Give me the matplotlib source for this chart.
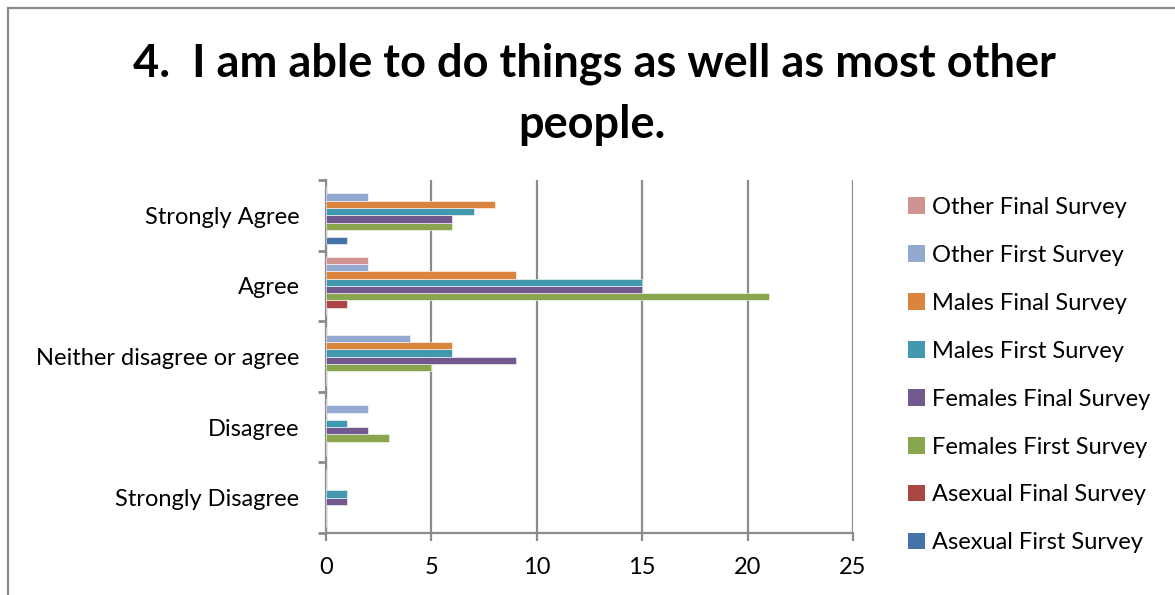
import matplotlib
matplotlib.use("Agg")
import matplotlib.pyplot as plt
from matplotlib.patches import Patch
from matplotlib.lines import Line2D
import numpy as np

plt.rcParams['font.family'] = ['Lato', 'DejaVu Sans']

categories = ["Strongly Disagree", "Disagree", "Neither disagree or agree", "Agree", "Strongly Agree"]

# Series, listed bottom-to-top within each category group
series_names = [
    "Asexual First Survey", "Asexual Final Survey",
    "Females First Survey", "Females Final Survey",
    "Males First Survey", "Males Final Survey",
    "Other First Survey", "Other Final Survey",
]
asexual_first = [0, 0, 0, 0, 1]
asexual_final = [0, 0, 0, 1, 0]
females_first = [0, 3, 5, 21, 6]
females_final = [1, 2, 9, 15, 6]
males_first = [1, 1, 6, 15, 7]
males_final = [0, 0, 6, 9, 8]
other_first = [0, 2, 4, 2, 2]
other_final = [0, 0, 0, 2, 0]

series_values = [asexual_first, asexual_final, females_first, females_final,
                 males_first, males_final, other_first, other_final]
colors = ["#4572A7", "#AA4643", "#89A54E", "#71588F",
          "#4198AF", "#DB843D", "#93A9CF", "#D19392"]

x_ticks = [0, 5, 10, 15, 20, 25]

fig = plt.figure(figsize=(11.75, 5.95), dpi=100)
ax = fig.add_axes([326 / 1175, 1 - 533 / 595, (853 - 326) / 1175, (533 - 180) / 595])

n = len(series_names)
group = 0.827
h = group / n
y = np.arange(len(categories))
for i, (vals, col) in enumerate(zip(series_values, colors)):
    offs = -group / 2 + (i + 0.5) * h
    ax.barh(y + offs, vals, height=h, color=col, edgecolor="white",
            linewidth=0.4, zorder=3)

ax.set_xlim(0, 25)
ax.set_ylim(-0.5, len(categories) - 0.5)
ax.set_xticks(x_ticks)
ax.set_xticklabels([str(t) for t in x_ticks], fontsize=17)
ax.tick_params(axis="x", direction="out", length=6, width=1.6, color="#8c8c8c", pad=11)
ax.grid(axis="x", color="#8c8c8c", linewidth=1.6, zorder=0)
ax.set_axisbelow(True)

# category boundary ticks, labels at the centres
ax.set_yticks(np.arange(-0.5, len(categories), 1.0))
ax.set_yticklabels([])
ax.tick_params(axis="y", which="major", direction="out", length=6, width=2, color="#8c8c8c")
ax.set_yticks(y, minor=True)
ax.set_yticklabels(categories, minor=True, fontsize=17)
ax.tick_params(axis="y", which="minor", length=0, pad=19)

for s in ["top", "right"]:
    ax.spines[s].set_visible(False)
for s in ["left", "bottom"]:
    ax.spines[s].set_color("#8c8c8c")
    ax.spines[s].set_linewidth(1.6)

fig.text(0.506, 0.893, "4.  I am able to do things as well as most other",
         ha="center", va="center", fontsize=32.5, fontweight="bold")
fig.text(0.504, 0.79, "people.", ha="center", va="center", fontsize=32.5, fontweight="bold")

handles = [Patch(facecolor=c, edgecolor="none") for c in colors][::-1]
labels = series_names[::-1]
fig.legend(handles, labels, loc="upper left", bbox_to_anchor=(908 / 1175, 1 - 197 / 595),
           frameon=False, fontsize=17, handlelength=0.7, handleheight=0.7,
           handletextpad=0.3, labelspacing=1.14, borderaxespad=0, borderpad=0)

# chart frame (top and left edges)
fig.add_artist(Line2D([8 / 1175, 8 / 1175], [0, 1 - 8 / 595], transform=fig.transFigure,
                      color="#8c8c8c", linewidth=1.6))
fig.add_artist(Line2D([8 / 1175, 1], [1 - 8 / 595, 1 - 8 / 595], transform=fig.transFigure,
                      color="#8c8c8c", linewidth=1.6))

fig.savefig("out.png", dpi=100)
